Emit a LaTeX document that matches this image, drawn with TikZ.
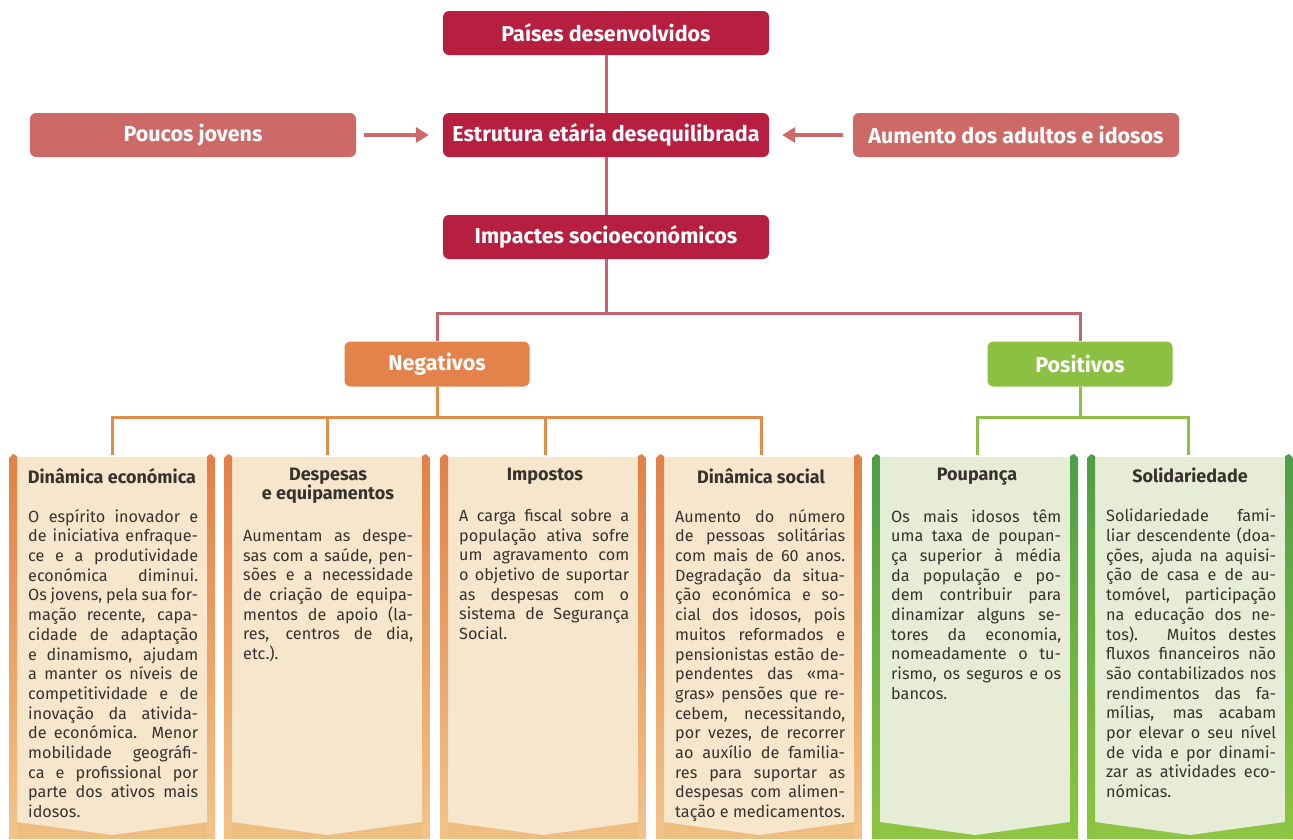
\documentclass[tikz,border=0pt]{standalone}
\usepackage{fontspec}
\setmainfont{Fira Sans}
\usetikzlibrary{arrows.meta}
\definecolor{dred}{RGB}{182,31,64}
\definecolor{lred}{RGB}{205,105,102}
\definecolor{rline}{RGB}{196,99,110}
\definecolor{obox}{RGB}{227,131,75}
\definecolor{oline}{RGB}{226,140,72}
\definecolor{gbox}{RGB}{140,192,67}
\definecolor{gline}{RGB}{141,192,69}
\definecolor{beige}{RGB}{246,230,204}
\definecolor{pgreen}{RGB}{230,236,213}
\definecolor{txt}{RGB}{55,50,45}
\definecolor{obartop}{RGB}{226,128,70}
\definecolor{obarbot}{RGB}{242,196,138}
\definecolor{oband}{RGB}{237,190,127}
\definecolor{gbartop}{RGB}{78,158,70}
\definecolor{gbarbot}{RGB}{141,198,63}
\definecolor{gband}{RGB}{141,196,68}
\newlength{\cw}
\setlength{\cw}{170pt}
\newcommand{\JL}[1]{\makebox[\cw][s]{#1}\\}
\newcommand{\mycard}[5]{%
  \fill[#5] (#1,820) rectangle ++(206,19);
  \fill[#2] (#1+8,457) -- (#1+198,457) -- (#1+198,822) -- (#1+103,835) -- (#1+8,822) -- cycle;
  \shade[top color=#3,bottom color=#4] (#1,458) -- (#1+4,454) -- (#1+8,456) -- (#1+8,839) -- (#1,839) -- cycle;
  \shade[top color=#3,bottom color=#4] (#1+198,456) -- (#1+202,454) -- (#1+206,458) -- (#1+206,839) -- (#1+198,839) -- cycle;
}
\tikzset{
  x=1pt, y=-1pt,
  dbox/.style={fill=dred, rounded corners=6pt, minimum width=326pt, minimum height=44pt, text=white, font=\fontsize{21.5}{22}\selectfont\bfseries, inner sep=0pt},
  lbox/.style={dbox, fill=lred},
  obx/.style={fill=obox, rounded corners=6pt, minimum width=185pt, minimum height=45pt, text=white, font=\fontsize{21.5}{22}\selectfont\bfseries, inner sep=0pt},
  gbx/.style={obx, fill=gbox},
  rl/.style={draw=rline, line width=3pt},
  ol/.style={draw=oline, line width=3pt},
  gl/.style={draw=gline, line width=3pt},
  arr/.style={draw=lred, line width=3.5pt, -{Triangle[width=15pt,length=13pt]}},
  head/.style={anchor=north, text=txt, font=\fontsize{18}{19}\selectfont\bfseries, align=center, inner sep=0pt},
  body/.style={anchor=north west, text=txt, font=\fontsize{16.2}{19.7}\selectfont, align=left, inner sep=0pt},
}
\begin{document}
\begin{tikzpicture}
\useasboundingbox (0,0) rectangle (1293,839);
\fill[white] (0,0) rectangle (1293,839);

% cards
\mycard{9}{beige}{obartop}{obarbot}{oband}
\mycard{224}{beige}{obartop}{obarbot}{oband}
\mycard{440}{beige}{obartop}{obarbot}{oband}
\mycard{656}{beige}{obartop}{obarbot}{oband}
\mycard{872}{pgreen}{gbartop}{gbarbot}{gband}
\mycard{1087}{pgreen}{gbartop}{gbarbot}{gband}

\coordinate (c1) at (112,455);
\coordinate (c2) at (327,455);
\coordinate (c3) at (545,455);
\coordinate (c4) at (761,455);
\coordinate (c5) at (977,455);
\coordinate (c6) at (1188,455);
\coordinate (nj) at (437,417);
\coordinate (pj) at (1080,417);
\coordinate (hj) at (606,313);

% top nodes
\node[dbox] (P) at (606,33) {Países desenvolvidos};
\node[dbox] (E) at (606,135) {Estrutura etária desequilibrada};
\node[dbox] (I) at (606,237) {Impactes socioeconómicos};
\node[lbox] (PJ) at (193,135) {Poucos jovens};
\node[lbox] (AA) at (1016,135) {Aumento dos adultos e idosos};
\node[obx] (N) at (437,364) {Negativos};
\node[gbx] (Pos) at (1080,364) {Positivos};

% connectors
\draw[rl] (P) -- (E);
\draw[rl] (E) -- (I);
\draw[rl] (I.south) -- (hj);
\draw[rl] (N.north) |- (hj) -| (Pos.north);
\draw[ol] (N.south) -- (nj);
\draw[ol] (c1) |- (nj) -| (c4);
\draw[ol] (c2) -- (c2 |- nj);
\draw[ol] (c3) -- (c3 |- nj);
\draw[gl] (Pos.south) -- (pj);
\draw[gl] (c5) |- (pj) -| (c6);
\draw[arr, shorten <=8pt, shorten >=14pt] (PJ) -- (E);
\draw[arr, shorten <=10pt, shorten >=13pt] (AA) -- (E);

% headings
\node[head] (h1) at (112,468) {Dinâmica económica};
\node[head] (h2) at (328,468) {Despesas\\e equipamentos};
\node[head] (h3) at (545,468) {Impostos};
\node[head] (h4) at (761,468) {Dinâmica social};
\node[head] (h5) at (977,468) {Poupança};
\node[head] (h6) at (1190,468) {Solidariedade};

% bodies
\node[body] (b1) at (28,509) {\JL{O espírito inovador e}\JL{de iniciativa enfraque-}\JL{ce e a produtividade}\JL{económica diminui.}\JL{Os jovens, pela sua for-}\JL{mação recente, capa-}\JL{cidade de adaptação}\JL{e dinamismo, ajudam}\JL{a manter os níveis de}\JL{competitividade e de}\JL{inovação da ativida-}\JL{de económica. Menor}\JL{mobilidade geográfi-}\JL{ca e profissional por}\JL{parte dos ativos mais}idosos.};
\node[body] (b2) at (243,529) {\JL{Aumentam as despe-}\JL{sas com a saúde, pen-}\JL{sões e a necessidade}\JL{de criação de equipa-}\JL{mentos de apoio (la-}\JL{res, centros de dia,}etc.).};
\node[body] (b3) at (459,509) {\JL{A carga fiscal sobre a}\JL{população ativa sofre}\JL{um agravamento com}\JL{o objetivo de suportar}\JL{as despesas com o}\JL{sistema de Segurança}Social.};
\node[body] (b4) at (675,509) {\JL{Aumento do número}\JL{de pessoas solitárias}\JL{com mais de 60 anos.}\JL{Degradação da situa-}\JL{ção económica e so-}\JL{cial dos idosos, pois}\JL{muitos reformados e}\JL{pensionistas estão de-}\JL{pendentes das «ma-}\JL{gras» pensões que re-}\JL{cebem, necessitando,}\JL{por vezes, de recorrer}\JL{ao auxílio de familia-}\JL{res para suportar as}\JL{despesas com alimen-}tação e medicamentos.};
\node[body] (b5) at (891,509) {\JL{Os mais idosos têm}\JL{uma taxa de poupan-}\JL{ça superior à média}\JL{da população e po-}\JL{dem contribuir para}\JL{dinamizar alguns se-}\JL{tores da economia,}\JL{nomeadamente o tu-}\JL{rismo, os seguros e os}bancos.};
\node[body] (b6) at (1106,509) {\JL{Solidariedade fami-}\JL{liar descendente (doa-}\JL{ções, ajuda na aquisi-}\JL{ção de casa e de au-}\JL{tomóvel, participação}\JL{na educação dos ne-}\JL{tos). Muitos destes}\JL{fluxos financeiros não}\JL{são contabilizados nos}\JL{rendimentos das fa-}\JL{mílias, mas acabam}\JL{por elevar o seu nível}\JL{de vida e por dinami-}\JL{zar as atividades eco-}nómicas.};
\end{tikzpicture}
\end{document}
